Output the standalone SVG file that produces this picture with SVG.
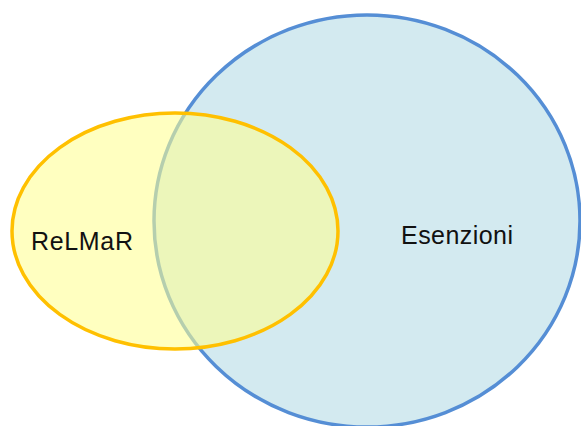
<svg xmlns="http://www.w3.org/2000/svg" width="581" height="426" viewBox="0 0 581 426">
<style>
.lbl{font-family:"Liberation Sans",Arial,sans-serif;font-size:25px;fill:#111111}
</style>
<rect width="581" height="426" fill="#ffffff"/>
<g id="esenzioni">
<ellipse cx="367" cy="221" rx="213" ry="206" fill="#D3EAF0" stroke="#558ED5" stroke-width="3.5"/>
<text class="lbl" x="401" y="244" textLength="112" lengthAdjust="spacing">Esenzioni</text>
</g>
<g id="relmar">
<ellipse cx="175" cy="231" rx="163" ry="118" fill="#FFFF90" fill-opacity="0.57" stroke="none"/>
<ellipse cx="175" cy="231" rx="163" ry="118" fill="none" stroke="#FFC000" stroke-width="3.5"/>
<text class="lbl" x="31" y="250" textLength="102" lengthAdjust="spacing">ReLMaR</text>
</g>
<g id="connectors"/>
</svg>
